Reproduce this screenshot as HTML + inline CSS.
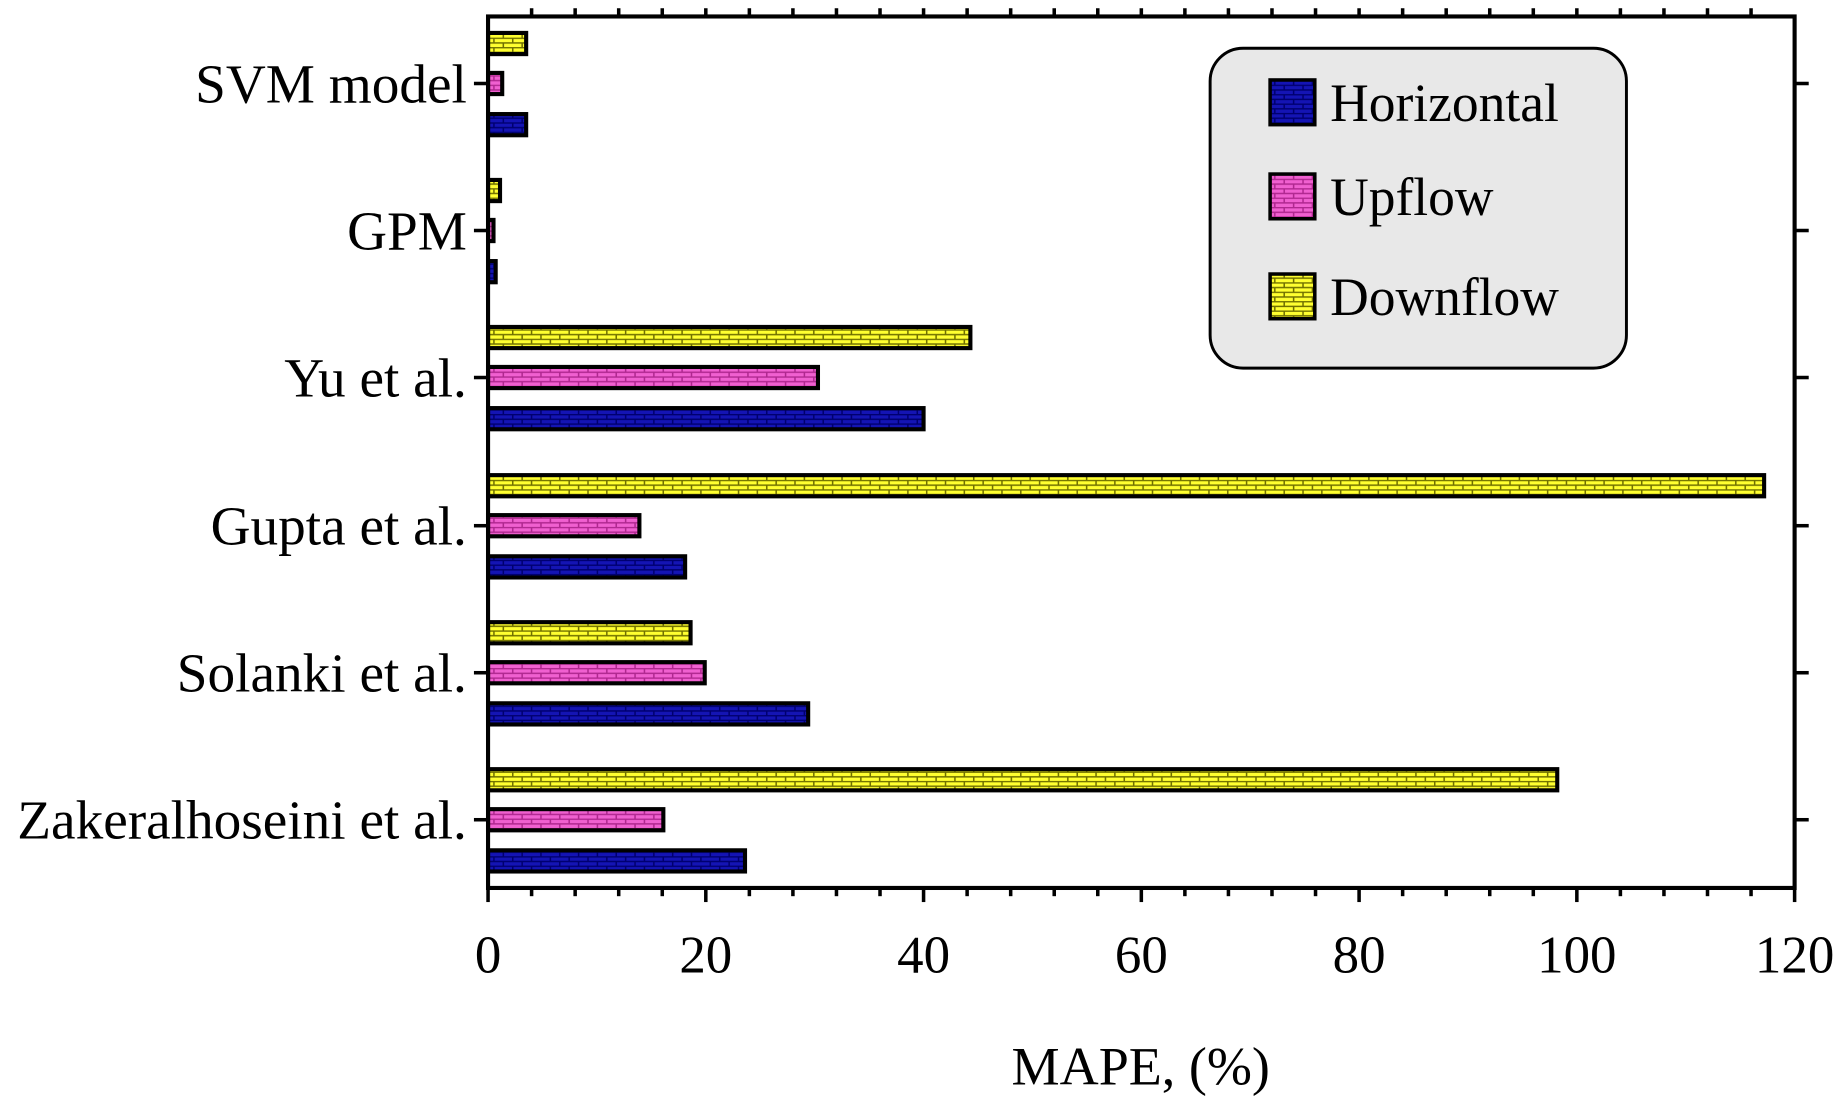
<!DOCTYPE html>
<html><head><style>html,body{margin:0;padding:0;background:#fff}svg{display:block}</style></head><body>
<svg width="1844" height="1102" viewBox="0 0 1568 937" preserveAspectRatio="none" xmlns="http://www.w3.org/2000/svg" font-family="Liberation Serif, serif">
<defs>
<pattern id="pb" width="16" height="8" patternUnits="userSpaceOnUse"><rect width="16" height="8" fill="#1414b4"/><path d="M0 0.5H16M0 4.5H16M4 0V4M12 4V8" stroke="#000070" stroke-width="1.3"/></pattern>
<pattern id="pp" width="16" height="8" patternUnits="userSpaceOnUse"><rect width="16" height="8" fill="#f060d0"/><path d="M0 0.5H16M0 4.5H16M4 0V4M12 4V8" stroke="#b02890" stroke-width="1.3"/></pattern>
<pattern id="py" width="16" height="8" patternUnits="userSpaceOnUse"><rect width="16" height="8" fill="#ffff30"/><path d="M0 0.5H16M0 4.5H16M4 0V4M12 4V8" stroke="#707000" stroke-width="1.3"/></pattern>
</defs>
<g id="bars" stroke="#000" stroke-width="3.5"></g>
<rect x="415" y="14" width="1111" height="741" fill="none" stroke="#000" stroke-width="3.5"/>
<g id="ticks" stroke="#000" stroke-width="3"></g>
<g id="labels" font-size="47" fill="#000"></g>
<rect x="1029" y="41" width="354" height="272" rx="28" fill="#e8e8e8" stroke="#000" stroke-width="2.5"/>
<rect x="1080" y="68" width="38" height="38" fill="url(#pb)" stroke="#000" stroke-width="3"/>
<rect x="1080" y="148" width="38" height="38" fill="url(#pp)" stroke="#000" stroke-width="3"/>
<rect x="1080" y="233" width="38" height="38" fill="url(#py)" stroke="#000" stroke-width="3"/>
<g font-size="45.5"><text x="1131" y="103">Horizontal</text><text x="1131" y="183">Upflow</text><text x="1131" y="268">Downflow</text></g>
<text x="970" y="922" font-size="46" text-anchor="middle">MAPE, (%)</text>
<script>
var ns="http://www.w3.org/2000/svg";
function el(p,t,a,txt){var e=document.createElementNS(ns,t);for(var k in a)e.setAttribute(k,a[k]);if(txt)e.textContent=txt;p.appendChild(e);}
var X=function(v){return 415+v*1111/120;};
var cats=[["SVM model",71,[3.5,1.3,3.5]],["GPM",196,[1.1,0.5,0.7]],["Yu et al.",321,[44.3,30.3,40]],["Gupta et al.",447,[117.2,13.9,18.1]],["Solanki et al.",572,[18.6,19.9,29.4]],["Zakeralhoseini et al.",697,[98.2,16.1,23.6]]];
var B=document.getElementById("bars"),T=document.getElementById("ticks"),L=document.getElementById("labels");
cats.forEach(function(c){var y=c[1];
 var off=[-34,0,35],f=["url(#py)","url(#pp)","url(#pb)"];
 for(var i=0;i<3;i++){el(B,"rect",{x:415,y:y+off[i]-9,width:c[2][i]*1111/120,height:18,fill:f[i]});}
 el(T,"line",{x1:403,x2:415,y1:y,y2:y});el(T,"line",{x1:1526,x2:1538,y1:y,y2:y});
 el(L,"text",{x:397,y:y+16,"text-anchor":"end"},c[0]);
});
for(var v=0;v<=120;v+=4){var x=X(v),maj=v%20==0;
 el(T,"line",{x1:x,x2:x,y1:755,y2:maj?767:762});
 if(v>0&&v<120)el(T,"line",{x1:x,x2:x,y1:14,y2:7});
 if(maj)el(L,"text",{x:x,y:827,"text-anchor":"middle","font-size":45},""+v);}
</script>
</svg>
</body></html>
